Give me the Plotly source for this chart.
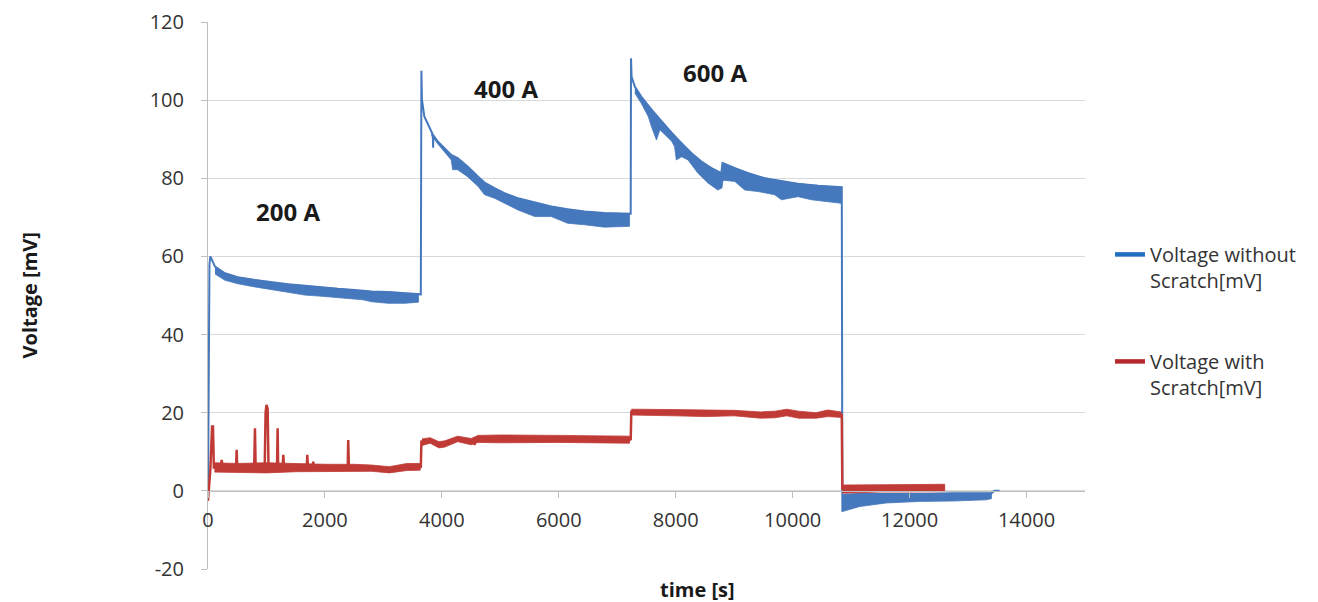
import plotly.graph_objects as go

# Voltage without scratch (upper edge of the trace), time in s, voltage in mV
blue_t = [0, 25, 40, 120, 290, 510, 800, 1090, 1370, 1660, 1950, 2220, 2510, 2800, 3080, 3370, 3600, 3640,
          3650, 3660, 3700, 3820, 3845, 3850, 3855, 3930, 4050, 4160, 4270, 4440, 4620, 4730, 4900, 5070,
          5300, 5590, 5870, 6150, 6440, 6780, 7210, 7230,
          7235, 7245, 7300, 7410, 7590, 7760, 7930, 8100, 8270, 8440, 8610, 8780, 8800, 9010, 9240, 9520,
          9810, 10090, 10430, 10830, 10840,
          10850, 10900, 11150, 11600, 12170, 12740, 13310, 13400, 13450, 13540]
blue_v = [-2.0, 58.0, 60.0, 57.4, 55.7, 54.7, 54.0, 53.4, 52.9, 52.5, 52.0, 51.7, 51.4, 51.0, 50.9, 50.6, 50.3, 50.3,
          107.5, 100.1, 95.8, 91.6, 91.2, 87.8, 91.0, 89.4, 87.7, 86.0, 85.2, 83.0, 80.4, 78.9, 77.5, 76.2,
          74.9, 73.8, 72.8, 72.1, 71.5, 71.1, 70.9, 70.9,
          110.7, 106.0, 103.5, 100.9, 97.5, 94.5, 91.6, 89.0, 86.4, 84.3, 82.6, 81.3, 83.9, 82.6, 81.3, 80.0,
          79.2, 78.6, 78.1, 77.7, 77.7,
          -5.3, -1.0, -0.8, -0.8, -0.8, -0.6, -0.6, -0.6, 0.0, 0.0]

# noise band of the blue trace: time, top, bottom
blue_band_200_t = [120, 290, 510, 800, 1090, 1370, 1660, 1950, 2220, 2510, 2650, 2800, 3080, 3370, 3600]
blue_band_200_hi = [57.4, 55.7, 54.7, 54.0, 53.4, 52.9, 52.5, 52.0, 51.7, 51.4, 51.2, 51.0, 50.9, 50.6, 50.3]
blue_band_200_lo = [55.5, 53.9, 53.0, 52.2, 51.4, 50.8, 50.1, 49.8, 49.4, 49.1, 48.9, 48.4, 48.0, 48.0, 48.3]

blue_band_400_t = [3820, 3930, 4160, 4185, 4270, 4440, 4620, 4730, 4900, 5070, 5300, 5590, 5870, 6150, 6440, 6780, 7210]
blue_band_400_hi = [91.6, 89.4, 86.0, 85.7, 85.2, 83.0, 80.4, 78.9, 77.5, 76.2, 74.9, 73.8, 72.8, 72.1, 71.5, 71.1, 70.9]
blue_band_400_lo = [91.0, 88.8, 84.7, 82.2, 82.2, 80.4, 77.9, 75.8, 74.9, 73.6, 71.9, 70.2, 70.2, 68.5, 68.1, 67.5, 67.7]

blue_band_600_t = [7300, 7410, 7530, 7590, 7670, 7730, 7930, 7980, 8010, 8100, 8210, 8380, 8550, 8720, 8790,
                   8810, 9010, 9180, 9410, 9690, 9810, 10090, 10320, 10550, 10830]
blue_band_600_hi = [103.5, 100.9, 98.5, 97.5, 96.0, 95.0, 91.6, 90.8, 90.3, 89.0, 87.2, 85.0, 83.2, 81.8, 81.3,
                    83.9, 82.6, 81.7, 80.5, 79.5, 79.2, 78.6, 78.3, 78.0, 77.7]
blue_band_600_lo = [101.8, 99.2, 95.8, 93.0, 89.8, 92.4, 89.5, 88.1, 84.7, 85.5, 84.7, 81.3, 78.8, 77.0, 77.5,
                    79.5, 79.2, 77.0, 76.6, 75.8, 74.5, 75.3, 74.5, 74.0, 73.6]

blue_band_tail_t = [10850, 11150, 11600, 12170, 12740, 13310, 13400]
blue_band_tail_hi = [-1.0, -0.8, -0.8, -0.8, -0.6, -0.6, -0.6]
blue_band_tail_lo = [-5.3, -4.0, -3.1, -2.7, -2.6, -2.3, -2.0]

# Voltage with scratch (centre of the trace)
red_t = [0, 40, 70, 85, 100,
         220, 234, 250, 480, 490, 500, 790, 803, 815, 970, 985, 1000, 1020, 1035,
         1180, 1191, 1200, 1275, 1288, 1300, 1690, 1698, 1710, 1790, 1800, 1810, 2390, 2398, 2410,
         2800, 3100, 3400, 3640,
         3650, 3800, 3950, 4050, 4270, 4500, 4560, 4620, 5000, 6000, 7210, 7230,
         7240, 7500, 8000, 9000, 9450, 9700, 9900, 10100, 10400, 10600, 10830, 10840,
         10850, 11500, 12000, 12600]
red_v = [-2.5, 5.5, 16.5, 16.5, 6.0,
         6.0, 7.9, 6.0, 6.0, 10.5, 6.0, 6.0, 16.0, 6.0, 6.0, 20.0, 22.0, 21.0, 6.0,
         6.0, 16.0, 6.0, 6.0, 9.2, 6.0, 6.0, 9.2, 6.0, 6.0, 7.5, 6.0, 6.0, 13.0, 6.0,
         6.2, 5.5, 6.3, 6.2,
         12.6, 13.0, 11.8, 12.0, 13.5, 12.6, 12.0, 13.8, 13.3, 13.3, 13.2, 13.0,
         20.2, 20.0, 20.1, 20.0, 19.4, 19.6, 20.3, 19.5, 19.4, 20.0, 19.6, 19.4,
         0.6, 0.7, 0.7, 0.8]

red_band_200_t = [110, 500, 1000, 1500, 2000, 2500, 2800, 3100, 3400, 3630]
red_band_200_hi = [7.2, 7.0, 7.2, 7.0, 6.8, 6.8, 6.6, 6.2, 7.0, 7.0]
red_band_200_lo = [4.8, 4.8, 4.6, 4.9, 5.0, 5.0, 5.0, 4.6, 5.2, 5.3]

red_band_400_t = [3660, 3800, 3950, 4050, 4270, 4500, 4620, 5000, 6000, 7210]
red_band_400_hi = [13.3, 13.6, 12.6, 12.8, 14.0, 13.4, 14.2, 14.3, 14.2, 14.0]
red_band_400_lo = [11.6, 12.2, 11.0, 11.2, 12.6, 11.8, 12.4, 12.3, 12.4, 12.2]

red_band_600_t = [7240, 7500, 8000, 8500, 9000, 9450, 9700, 9900, 10100, 10400, 10600, 10830]
red_band_600_hi = [20.9, 20.8, 20.8, 20.7, 20.6, 20.2, 20.4, 20.9, 20.4, 20.0, 20.7, 20.2]
red_band_600_lo = [19.4, 19.3, 19.2, 19.0, 19.2, 18.6, 18.7, 19.2, 18.6, 18.6, 19.0, 18.8]

red_band_tail_t = [10850, 11500, 12000, 12600]
red_band_tail_hi = [1.5, 1.5, 1.6, 1.7]
red_band_tail_lo = [-0.6, -0.3, -0.3, -0.2]

# current step labels
step_labels = ["200 A", "400 A", "600 A"]
step_t = [1370, 5090, 8680]
step_v = [71.4, 103.1, 107.0]

x_ticks = [0, 2000, 4000, 6000, 8000, 10000, 12000, 14000]
x_tick_text = ["0", "2000", "4000", "6000", "8000", "10000", "12000", "14000"]
y_ticks = [-20, 0, 20, 40, 60, 80, 100, 120]
y_tick_text = ["-20", "0", "20", "40", "60", "80", "100", "120"]

BLUE = "#4678BD"
RED = "#C03A36"
LEG_BLUE = "#1F6EBF"
LEG_RED = "#B5282C"
FONT = "Open Sans"


def band(t, hi, lo, color):
    return go.Scatter(x=t + t[::-1], y=hi + lo[::-1], fill="toself", fillcolor=color,
                      line=dict(color=color, width=0.8), mode="lines",
                      showlegend=False, hoverinfo="skip")


fig = go.Figure()

# blue first, red drawn on top
for t, hi, lo in [(blue_band_200_t, blue_band_200_hi, blue_band_200_lo),
                  (blue_band_400_t, blue_band_400_hi, blue_band_400_lo),
                  (blue_band_600_t, blue_band_600_hi, blue_band_600_lo),
                  (blue_band_tail_t, blue_band_tail_hi, blue_band_tail_lo)]:
    fig.add_trace(band(t, hi, lo, BLUE))
fig.add_trace(go.Scatter(x=blue_t, y=blue_v, mode="lines", name="blue",
                         line=dict(color=BLUE, width=2), showlegend=False))

for t, hi, lo in [(red_band_200_t, red_band_200_hi, red_band_200_lo),
                  (red_band_400_t, red_band_400_hi, red_band_400_lo),
                  (red_band_600_t, red_band_600_hi, red_band_600_lo),
                  (red_band_tail_t, red_band_tail_hi, red_band_tail_lo)]:
    fig.add_trace(band(t, hi, lo, RED))
fig.add_trace(go.Scatter(x=red_t, y=red_v, mode="lines", name="red",
                         line=dict(color=RED, width=2.5), showlegend=False))

# legend entries (thicker swatches as in the original)
fig.add_trace(go.Scatter(x=[None], y=[None], mode="lines", name="Voltage without<br>Scratch[mV]",
                         line=dict(color=LEG_BLUE, width=4.5), legendgroup="a"))
fig.add_trace(go.Scatter(x=[None], y=[None], mode="lines", name="Voltage with<br>Scratch[mV]",
                         line=dict(color=LEG_RED, width=4.5), legendgroup="b"))

for lbl, t, v in zip(step_labels, step_t, step_v):
    fig.add_annotation(x=t, y=v, text="<b>%s</b>" % lbl, showarrow=False,
                       font=dict(family=FONT, size=24, color="#1a1a1a"))

# axis titles
fig.add_annotation(text="<b>Voltage [mV]</b>", xref="paper", yref="paper", x=-0.203, y=0.5,
                   xanchor="center", yanchor="middle",
                   textangle=-90, showarrow=False, font=dict(family=FONT, size=20, color="#1a1a1a"))
fig.add_annotation(text="<b>time [s]</b>", xref="paper", yref="paper", x=0.558, y=0.0,
                   xanchor="center", yanchor="top", yshift=-5, showarrow=False,
                   font=dict(family=FONT, size=20, color="#1a1a1a"))

# the page body has an 8 px margin, so the figure is 8 px smaller and margins are shifted
fig.update_layout(
    width=1310, height=594, autosize=False,
    margin=dict(l=200, r=233, t=14, b=33),
    paper_bgcolor="white", plot_bgcolor="white",
    font=dict(family=FONT, size=20, color="#333333"),
    legend=dict(xref="container", yref="container", x=0.8412, y=0.618, xanchor="left", yanchor="top",
                traceorder="grouped", tracegroupgap=52, valign="top",
                font=dict(family=FONT, size=20, color="#333333")),
    xaxis=dict(range=[0, 15000], tickvals=x_ticks, ticktext=x_tick_text, showgrid=False, zeroline=False,
               showline=True, linecolor="#BFBFBF", linewidth=1, ticks="outside", ticklen=6,
               tickcolor="#BFBFBF", anchor="free", position=20 / 140, ticklabelstandoff=5,
               automargin=False, tickfont=dict(size=20)),
    yaxis=dict(range=[-20, 120], tickvals=y_ticks, ticktext=y_tick_text, showgrid=True,
               gridcolor="#D9D9D9", zeroline=False,
               showline=True, linecolor="#BFBFBF", linewidth=1, ticks="outside", ticklen=6,
               tickcolor="#BFBFBF", ticklabelstandoff=13, automargin=False, tickfont=dict(size=20)),
)

fig.write_html("out.html")
